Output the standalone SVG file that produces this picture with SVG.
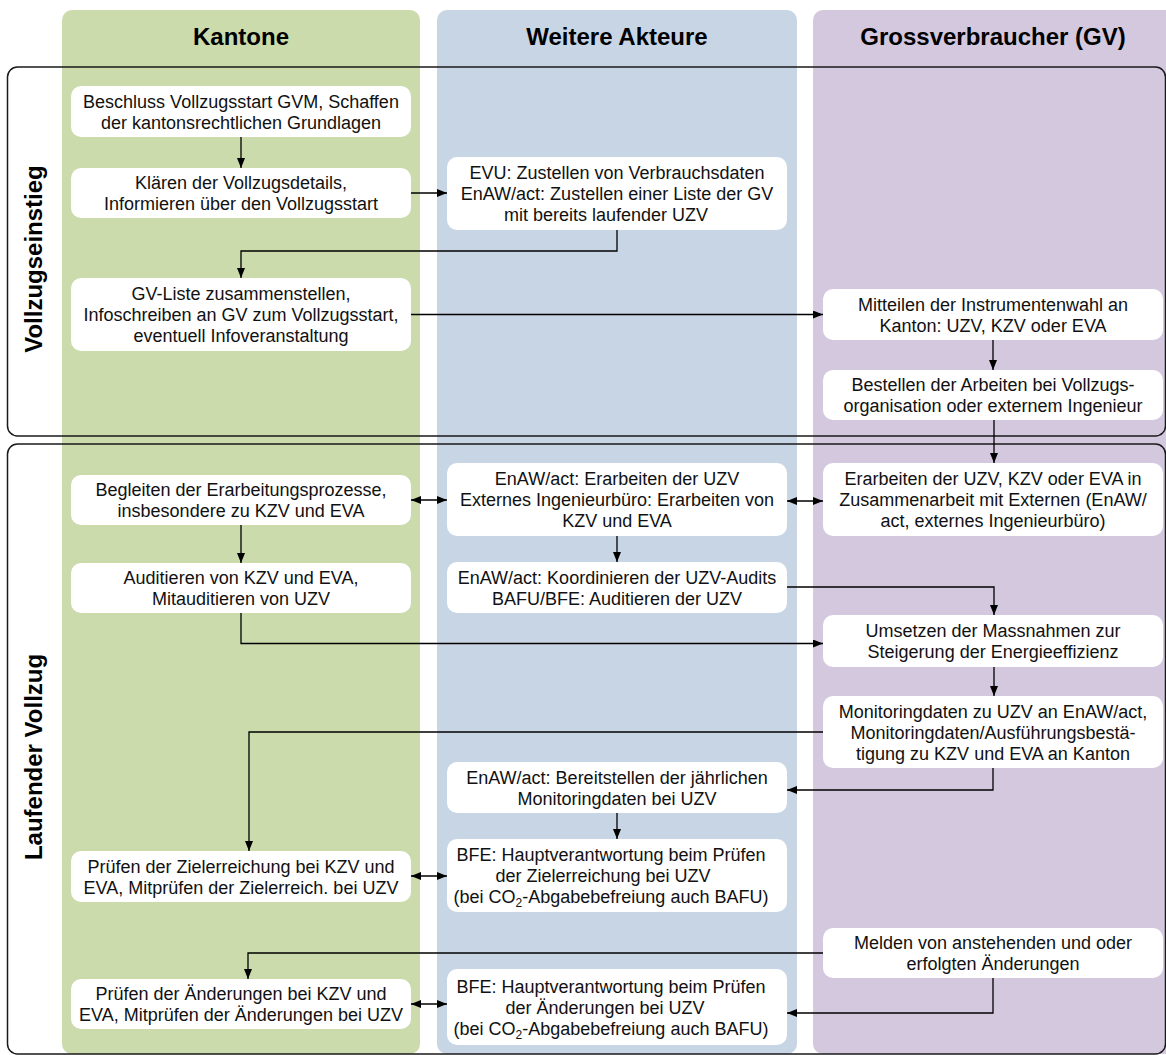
<svg xmlns="http://www.w3.org/2000/svg" width="1166" height="1055" viewBox="0 0 1166 1055">
<style>
.col-k{fill:#CBDBAB}
.col-w{fill:#C8D5E5}
.col-g{fill:#D3C8DE}
.hdr{font-family:"Liberation Sans",Arial,sans-serif;font-size:24px;font-weight:bold;fill:#000;text-anchor:middle}
.sec{fill:none;stroke:#1a1a1a;stroke-width:1.5}
.seclbl{font-family:"Liberation Sans",Arial,sans-serif;font-size:24px;font-weight:bold;fill:#000;text-anchor:middle}
.box{fill:#fff}
.t{font-family:"Liberation Sans",Arial,sans-serif;font-size:18px;fill:#111;text-anchor:middle}
.c{fill:none;stroke:#000;stroke-width:1.3}
</style>
<defs>
<marker id="ah" markerUnits="userSpaceOnUse" markerWidth="11" markerHeight="9" refX="10" refY="4" orient="auto-start-reverse">
<path d="M0,0 L10,4 L0,8 z" fill="#000"/>
</marker>
</defs>

<g id="lanes">
<rect class="col-k" x="62" y="10" width="358" height="1044" rx="10"/>
<rect class="col-w" x="437" y="10" width="360" height="1044" rx="10"/>
<rect class="col-g" x="813" y="10" width="370" height="1044" rx="10"/>
<text class="hdr" x="241" y="45">Kantone</text>
<text class="hdr" x="617" y="45">Weitere Akteure</text>
<text class="hdr" x="993" y="45">Grossverbraucher (GV)</text>
</g>

<g id="phases">
<rect class="sec" x="7.5" y="67" width="1158" height="369" rx="10"/>
<rect class="sec" x="7.5" y="444" width="1158" height="610" rx="10"/>
<text class="seclbl" transform="translate(42,259) rotate(-90)">Vollzugseinstieg</text>
<text class="seclbl" transform="translate(42,757) rotate(-90)">Laufender Vollzug</text>
</g>

<g id="connectors">
<path class="c" d="M241,137 V168" marker-end="url(#ah)"/>
<path class="c" d="M411,193 H447" marker-end="url(#ah)"/>
<path class="c" d="M617,230 V251 H241 V278" marker-end="url(#ah)"/>
<path class="c" d="M411,314.5 H823" marker-end="url(#ah)"/>
<path class="c" d="M993,340 V370" marker-end="url(#ah)"/>
<path class="c" d="M994,420 V463" marker-end="url(#ah)"/>
<path class="c" d="M411,500 H447" marker-start="url(#ah)" marker-end="url(#ah)"/>
<path class="c" d="M787,501 H823" marker-start="url(#ah)" marker-end="url(#ah)"/>
<path class="c" d="M241,525 V563" marker-end="url(#ah)"/>
<path class="c" d="M617,536 V562" marker-end="url(#ah)"/>
<path class="c" d="M787,587 H994 V615" marker-end="url(#ah)"/>
<path class="c" d="M241,613 V643.5 H823" marker-end="url(#ah)"/>
<path class="c" d="M994,667 V696" marker-end="url(#ah)"/>
<path class="c" d="M823,732 H249 V851" marker-end="url(#ah)"/>
<path class="c" d="M993,768 V790 H787" marker-end="url(#ah)"/>
<path class="c" d="M617,813 V839" marker-end="url(#ah)"/>
<path class="c" d="M411,876 H447" marker-start="url(#ah)" marker-end="url(#ah)"/>
<path class="c" d="M823,953 H248 V979" marker-end="url(#ah)"/>
<path class="c" d="M993,978 V1013 H787" marker-end="url(#ah)"/>
<path class="c" d="M411,1004 H447" marker-start="url(#ah)" marker-end="url(#ah)"/>
</g>

<g id="k1"><rect class="box" x="71" y="86" width="340" height="51" rx="10"/>
<text class="t" x="241" y="107.5">Beschluss Vollzugsstart GVM, Schaffen</text>
<text class="t" x="241" y="128.5">der kantonsrechtlichen Grundlagen</text></g>

<g id="k2"><rect class="box" x="71" y="168" width="340" height="50" rx="10"/>
<text class="t" x="241" y="189">Klären der Vollzugsdetails,</text>
<text class="t" x="241" y="210">Informieren über den Vollzugsstart</text></g>

<g id="k3"><rect class="box" x="71" y="278" width="340" height="73" rx="10"/>
<text class="t" x="241" y="300">GV-Liste zusammenstellen,</text>
<text class="t" x="241" y="321">Infoschreiben an GV zum Vollzugsstart,</text>
<text class="t" x="241" y="342">eventuell Infoveranstaltung</text></g>

<g id="k4"><rect class="box" x="71" y="475" width="340" height="50" rx="10"/>
<text class="t" x="241" y="496">Begleiten der Erarbeitungsprozesse,</text>
<text class="t" x="241" y="517">insbesondere zu KZV und EVA</text></g>

<g id="k5"><rect class="box" x="71" y="563" width="340" height="50" rx="10"/>
<text class="t" x="241" y="584">Auditieren von KZV und EVA,</text>
<text class="t" x="241" y="605">Mitauditieren von UZV</text></g>

<g id="k6"><rect class="box" x="71" y="851" width="340" height="51" rx="10"/>
<text class="t" x="241" y="872.5">Prüfen der Zielerreichung bei KZV und</text>
<text class="t" x="241" y="893.5">EVA, Mitprüfen der Zielerreich. bei UZV</text></g>

<g id="k7"><rect class="box" x="71" y="979" width="340" height="50" rx="10"/>
<text class="t" x="241" y="1000">Prüfen der Änderungen bei KZV und</text>
<text class="t" x="241" y="1021">EVA, Mitprüfen der Änderungen bei UZV</text></g>

<g id="w1"><rect class="box" x="447" y="157" width="340" height="73" rx="10"/>
<text class="t" x="617" y="179">EVU: Zustellen von Verbrauchsdaten</text>
<text class="t" x="617" y="200">EnAW/act: Zustellen einer Liste der GV</text>
<text class="t" x="606" y="221">mit bereits laufender UZV</text></g>

<g id="w2"><rect class="box" x="447" y="463" width="340" height="73" rx="10"/>
<text class="t" x="617" y="485">EnAW/act: Erarbeiten der UZV</text>
<text class="t" x="617" y="506">Externes Ingenieurbüro: Erarbeiten von</text>
<text class="t" x="617" y="527">KZV und EVA</text></g>

<g id="w3"><rect class="box" x="447" y="562" width="340" height="51" rx="10"/>
<text class="t" x="617" y="583.5">EnAW/act: Koordinieren der UZV-Audits</text>
<text class="t" x="617" y="604.5">BAFU/BFE: Auditieren der UZV</text></g>

<g id="w4"><rect class="box" x="447" y="762" width="340" height="51" rx="10"/>
<text class="t" x="617" y="783.5">EnAW/act: Bereitstellen der jährlichen</text>
<text class="t" x="617" y="804.5">Monitoringdaten bei UZV</text></g>

<g id="w5"><rect class="box" x="447" y="839" width="340" height="73" rx="10"/>
<text class="t" x="611" y="861">BFE: Hauptverantwortung beim Prüfen</text>
<text class="t" x="603" y="882">der Zielerreichung bei UZV</text>
<text class="t" x="611" y="903">(bei CO<tspan font-size="12" dy="4">2</tspan><tspan dy="-4">-Abgabebefreiung auch BAFU)</tspan></text></g>

<g id="w6"><rect class="box" x="447" y="969" width="340" height="76" rx="10"/>
<text class="t" x="611" y="992.5">BFE: Hauptverantwortung beim Prüfen</text>
<text class="t" x="605" y="1013.5">der Änderungen bei UZV</text>
<text class="t" x="611" y="1034.5">(bei CO<tspan font-size="12" dy="4">2</tspan><tspan dy="-4">-Abgabebefreiung auch BAFU)</tspan></text></g>

<g id="g1"><rect class="box" x="823" y="289" width="340" height="51" rx="10"/>
<text class="t" x="993" y="310.5">Mitteilen der Instrumentenwahl an</text>
<text class="t" x="993" y="331.5">Kanton: UZV, KZV oder EVA</text></g>

<g id="g2"><rect class="box" x="823" y="370" width="340" height="50" rx="10"/>
<text class="t" x="993" y="391">Bestellen der Arbeiten bei Vollzugs-</text>
<text class="t" x="993" y="412">organisation oder externem Ingenieur</text></g>

<g id="g3"><rect class="box" x="823" y="463" width="340" height="73" rx="10"/>
<text class="t" x="993" y="485">Erarbeiten der UZV, KZV oder EVA in</text>
<text class="t" x="993" y="506">Zusammenarbeit mit Externen (EnAW/</text>
<text class="t" x="993" y="527">act, externes Ingenieurbüro)</text></g>

<g id="g4"><rect class="box" x="823" y="615" width="340" height="52" rx="10"/>
<text class="t" x="993" y="637">Umsetzen der Massnahmen zur</text>
<text class="t" x="993" y="658">Steigerung der Energieeffizienz</text></g>

<g id="g5"><rect class="box" x="823" y="696" width="340" height="72" rx="10"/>
<text class="t" x="993" y="717.5">Monitoringdaten zu UZV an EnAW/act,</text>
<text class="t" x="993" y="738.5">Monitoringdaten/Ausführungsbestä-</text>
<text class="t" x="993" y="759.5">tigung zu KZV und EVA an Kanton</text></g>

<g id="g6"><rect class="box" x="823" y="928" width="340" height="50" rx="10"/>
<text class="t" x="993" y="949">Melden von anstehenden und oder</text>
<text class="t" x="993" y="970">erfolgten Änderungen</text></g>
</svg>
